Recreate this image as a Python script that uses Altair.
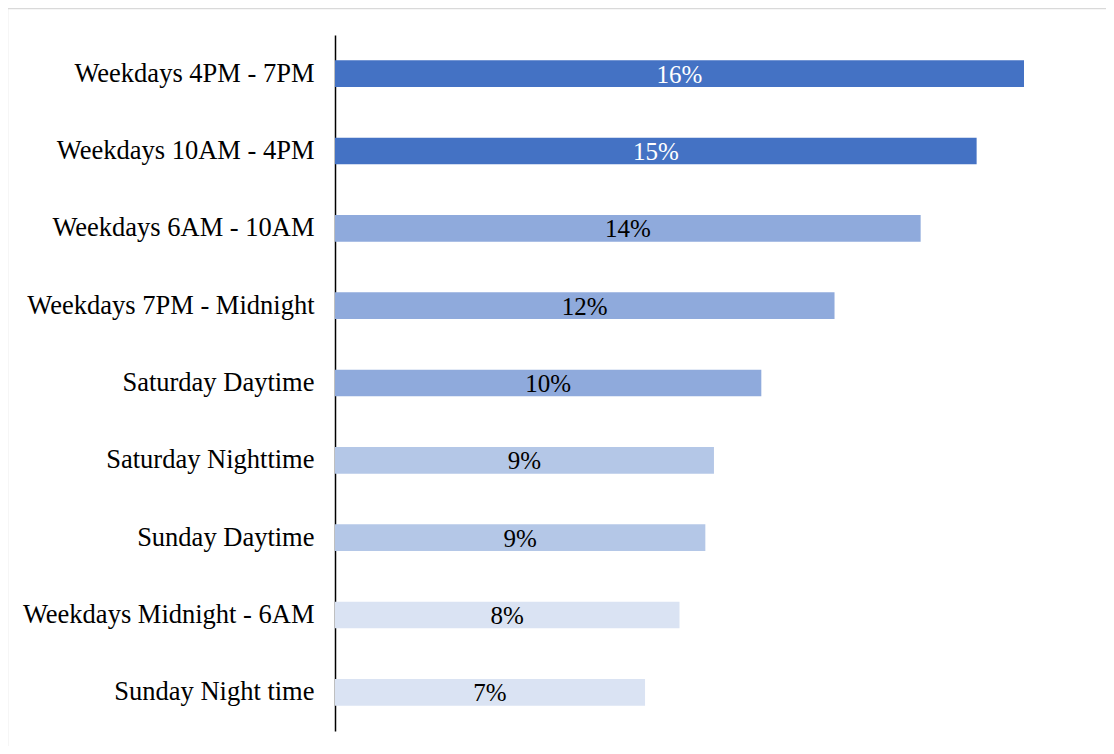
import altair as alt
import pandas as pd

categories = [
    "Weekdays 4PM - 7PM",
    "Weekdays 10AM - 4PM",
    "Weekdays 6AM - 10AM",
    "Weekdays 7PM - Midnight",
    "Saturday Daytime",
    "Saturday Nighttime",
    "Sunday Daytime",
    "Weekdays Midnight - 6AM",
    "Sunday Night time",
]
values = [0.160, 0.149, 0.136, 0.116, 0.099, 0.088, 0.086, 0.080, 0.072]
bar_colors = ["#4472C4", "#4472C4", "#8FAADC", "#8FAADC", "#8FAADC",
              "#B4C7E7", "#B4C7E7", "#DAE3F3", "#DAE3F3"]
label_colors = ["#FFFFFF", "#FFFFFF", "#000000", "#000000", "#000000",
                "#000000", "#000000", "#000000", "#000000"]

df = pd.DataFrame({
    "cat": categories,
    "value": values,
    "bar_color": bar_colors,
    "label_color": label_colors,
})

W, H = 689, 696
FONT = "Liberation Serif"

y_enc = alt.Y(
    "cat:N",
    sort=categories,
    title=None,
    scale=alt.Scale(paddingInner=0.655, paddingOuter=0.3275),
    axis=alt.Axis(
        labelFont=FONT, labelFontSize=26.5, labelColor="#000000",
        labelPadding=21, ticks=False, domainColor="#000000",
        domainWidth=1.5, labelLimit=400, grid=False,
    ),
)
x_scale = alt.Scale(domain=[0, 0.16], nice=False, zero=True)

base = alt.Chart(df)

bars = base.mark_bar().encode(
    y=y_enc,
    x=alt.X("value:Q", scale=x_scale, axis=None),
    color=alt.Color("bar_color:N", scale=None, legend=None),
)

texts = base.transform_calculate(
    mid="datum.value / 2"
).mark_text(font=FONT, fontSize=25, baseline="middle", align="center", dy=1).encode(
    y=alt.Y("cat:N", sort=categories),
    x=alt.X("mid:Q", scale=x_scale),
    text=alt.Text("value:Q", format=".0%"),
    color=alt.Color("label_color:N", scale=None, legend=None),
)

border = alt.Chart(pd.DataFrame({"a": [0]})).mark_rect(
    filled=False, stroke="#D9D9D9", strokeWidth=1.5
).encode(
    x=alt.value(-327.5), x2=alt.value(790),
    y=alt.value(-26.5), y2=alt.value(730),
)

chart = alt.layer(border, bars, texts).properties(
    width=W, height=H,
    background="#FFFFFF",
    autosize=alt.AutoSizeParams(type="none"),
    padding={"left": 327, "top": 27, "right": 82, "bottom": 15},
).configure_view(stroke="transparent", strokeWidth=0)

chart.save("out.html", embed_options={"renderer": "svg", "actions": False})
